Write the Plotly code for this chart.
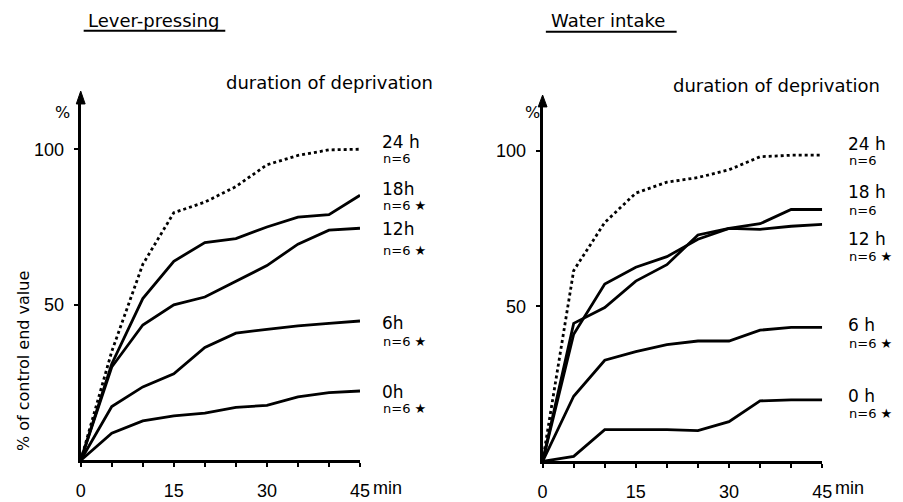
import plotly.graph_objects as go

W, H = 903, 502

# ---------------- data ----------------
minutes = [0, 5, 10, 15, 20, 25, 30, 35, 40, 45]

lever_24h = [0, 35, 63, 79.6, 83, 88, 95, 98, 99.8, 100]
lever_18h = [0, 31, 52, 64, 70, 71.3, 75, 78.2, 79, 85.2]
lever_12h = [0, 30, 43.5, 50, 52.5, 57.5, 62.6, 69.5, 74, 74.6]
lever_6h = [0, 17.3, 23.6, 27.8, 36.3, 40.9, 42.1, 43.2, 44, 44.8]
lever_0h = [0, 8.7, 12.7, 14.3, 15.2, 17, 17.7, 20.4, 21.8, 22.3]

water_24h = [0, 61.5, 77, 86.5, 90, 91.5, 94, 98.2, 98.7, 98.7]
water_18h = [0, 44.5, 49.6, 58.1, 63.4, 73, 75.1, 76.6, 81.2, 81.2]
water_12h = [0, 41, 57.2, 62.6, 66, 71.6, 75.1, 74.8, 75.8, 76.4]
water_6h = [0, 21, 32.6, 35.4, 37.6, 38.8, 38.8, 42.3, 43.2, 43.2]
water_0h = [0, 1.6, 10.2, 10.2, 10.2, 9.9, 12.8, 19.5, 19.8, 19.8]

lever_names = ["24 h", "18h", "12h", "6h", "0h"]
lever_n = ["n=6", "n=6 ★", "n=6 ★", "n=6 ★", "n=6 ★"]
water_names = ["24 h", "18 h", "12 h", "6 h", "0 h"]
water_n = ["n=6", "n=6", "n=6 ★", "n=6 ★", "n=6 ★"]

x_tickvals = [0, 5, 10, 15, 20, 25, 30, 35, 40, 45]
x_ticktext = ["0", "", "", "15", "", "", "30", "", "", "45"]
y_tickvals = [50, 100]
y_ticktext = ["50", "100"]

# ---------------- helpers ----------------
def px(x):
    return x / W

def py(y):
    return 1 - y / H

TXT = "DejaVu Sans"
NUM = "Liberation Sans, Arial, sans-serif"

fig = go.Figure()

lever = [lever_24h, lever_18h, lever_12h, lever_6h, lever_0h]
water = [water_24h, water_18h, water_12h, water_6h, water_0h]

for i, ys in enumerate(lever):
    fig.add_trace(go.Scatter(
        x=minutes, y=ys, mode="lines", xaxis="x", yaxis="y",
        line=dict(color="black", width=2.8, dash="dot" if i == 0 else "solid"),
        hoverinfo="skip"))
for i, ys in enumerate(water):
    fig.add_trace(go.Scatter(
        x=minutes, y=ys, mode="lines", xaxis="x2", yaxis="y2",
        line=dict(color="black", width=2.8, dash="dot" if i == 0 else "solid"),
        hoverinfo="skip"))

xcommon = dict(range=[0, 45], showgrid=False, zeroline=False, showline=True,
               linecolor="black", linewidth=3, ticks="outside", ticklen=4,
               tickwidth=2, tickcolor="black", tickvals=x_tickvals,
               ticktext=x_ticktext, ticklabelstandoff=8,
               tickfont=dict(family=NUM, size=18, color="black"), fixedrange=True)
ycommon = dict(range=[0, 115], showgrid=False, zeroline=False, showline=True,
               linecolor="black", linewidth=3, ticks="outside", ticklen=4,
               tickwidth=2, tickcolor="black", tickvals=y_tickvals,
               ticktext=y_ticktext, ticklabelstandoff=6,
               tickfont=dict(family=NUM, size=18, color="black"), fixedrange=True)

fig.update_layout(
    width=W, height=H, margin=dict(l=0, r=0, t=0, b=0),
    paper_bgcolor="white", plot_bgcolor="white", showlegend=False,
    xaxis=dict(domain=[px(77), px(361)], anchor="y", **xcommon),
    yaxis=dict(domain=[py(465), py(103.6)], anchor="x", **ycommon),
    xaxis2=dict(domain=[px(546.7), px(831)], anchor="y2", **xcommon),
    yaxis2=dict(domain=[py(466), py(105.7)], anchor="x2", **ycommon),
)

ann = []

def text(x, y, s, size, xanchor="left", font=TXT, angle=0):
    ann.append(dict(x=px(x), y=py(y), xref="paper", yref="paper", text=s,
                    showarrow=False, xanchor=xanchor, yanchor="middle",
                    textangle=angle,
                    font=dict(family=font, size=size, color="#000000")))

# titles
text(82, 21, "Lever-pressing", 18)
text(553, 21, "Water intake", 18)
# subtitle
text(223, 83, "duration of deprivation", 18)
text(677, 86, "duration of deprivation", 18)
# percent signs
text(58, 114, "%", 16, xanchor="center")
text(536, 114, "%", 16, xanchor="center")
# min units
text(372, 493, "min", 18, font=NUM)
text(842, 493, "min", 18, font=NUM)
# y title
text(19, 365, "% of control end value", 16, xanchor="center", angle=-90)

# series labels
lever_main_y = [143, 191, 231, 326, 396]
lever_n_y = [160, 208, 253, 345, 413]
water_main_y = [145, 194, 241, 328, 400]
water_n_y = [162, 213, 259, 347, 418]
for name, n, y1, y2 in zip(lever_names, lever_n, lever_main_y, lever_n_y):
    text(381, y1, name, 17)
    text(382, y2, n, 13)
for name, n, y1, y2 in zip(water_names, water_n, water_main_y, water_n_y):
    text(855, y1, name, 17)
    text(856, y2, n, 13)

fig.update_layout(annotations=ann)

# underline shapes and arrowheads
shapes = [
    dict(type="line", xref="paper", yref="paper", x0=px(80), x1=px(224),
         y0=py(31), y1=py(31), line=dict(color="black", width=2)),
    dict(type="line", xref="paper", yref="paper", x0=px(550), x1=px(683),
         y0=py(32), y1=py(32), line=dict(color="black", width=2)),
]
for ax_x, tip_y, base_y in [(77, 92, 105), (546.7, 96, 108)]:
    path = "M {} {} L {} {} L {} {} Z".format(
        px(ax_x), py(tip_y), px(ax_x - 4.5), py(base_y), px(ax_x + 4.5), py(base_y))
    shapes.append(dict(type="path", xref="paper", yref="paper", path=path,
                       fillcolor="black", line=dict(color="black", width=1)))
fig.update_layout(shapes=shapes)

fig.write_html("out.html")
